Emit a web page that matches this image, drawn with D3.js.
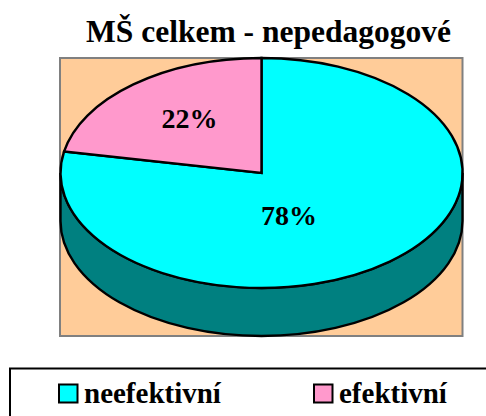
<!DOCTYPE html>
<html><head><meta charset="utf-8">
<script src="https://cdn.jsdelivr.net/npm/d3@7/dist/d3.min.js"></script>
<style>html,body{margin:0;padding:0;background:#fff;overflow:hidden}svg{display:block}text{font-family:"Liberation Serif",serif;font-weight:bold;fill:#000}</style>
</head><body><svg id="c" width="486" height="416"></svg>
<script>
const titleText = "MŠ celkem - nepedagogové";
const categories = ["neefektivní", "efektivní"];
const values = [78, 22];
const valueLabels = ["78%", "22%"];
const topColors = ["#00ffff", "#ff99cc"];
const wallColor = "#008080";

const svg = d3.select("#c");
const cx = 261.5, cy = 173, rx = 201, ry = 115, depth = 48;

svg.append("text").attr("x", 268.5).attr("y", 41.5).attr("text-anchor", "middle")
  .attr("font-size", 31.5).text(titleText);

svg.append("rect").attr("x", 60).attr("y", 58).attr("width", 402.5).attr("height", 278)
  .attr("fill", "#ffcc99").attr("stroke", "#808080").attr("stroke-width", 2);

const pie = d3.pie().sort(null).value(d => d)(values);
const arc = d3.arc().innerRadius(0).outerRadius(1);

// side wall
const wall = `M${cx - rx},${cy} A${rx},${ry} 0 0 0 ${cx + rx},${cy} L${cx + rx},${cy + depth} A${rx},${ry} 0 0 1 ${cx - rx},${cy + depth} Z`;
svg.append("path").attr("d", wall).attr("fill", wallColor).attr("stroke", "#000").attr("stroke-width", 2.4);

const g = svg.append("g").attr("transform", `translate(${cx},${cy}) scale(${rx},${ry})`);
g.selectAll("path").data(pie).join("path")
  .attr("d", arc)
  .attr("fill", (d, i) => topColors[i])
  .attr("stroke", "#000").attr("stroke-width", 2.4)
  .attr("vector-effect", "non-scaling-stroke");

const labelPos = [[289, 225], [189.5, 128]];
svg.selectAll("text.v").data(valueLabels).join("text").attr("class", "v")
  .attr("x", (d, i) => labelPos[i][0]).attr("y", (d, i) => labelPos[i][1])
  .attr("text-anchor", "middle").attr("font-size", 28).text(d => d);

// legend
svg.append("rect").attr("x", 10).attr("y", 368.5).attr("width", 490).attr("height", 60)
  .attr("fill", "#fff").attr("stroke", "#000").attr("stroke-width", 2);
const legendX = [59, 314];
categories.forEach((c, i) => {
  svg.append("rect").attr("x", legendX[i]).attr("y", 384.5).attr("width", 18.5).attr("height", 18)
    .attr("fill", topColors[i]).attr("stroke", "#000").attr("stroke-width", 2);
  svg.append("text").attr("x", legendX[i] + 25).attr("y", 403).attr("font-size", 29).text(c);
});
</script></body></html>
